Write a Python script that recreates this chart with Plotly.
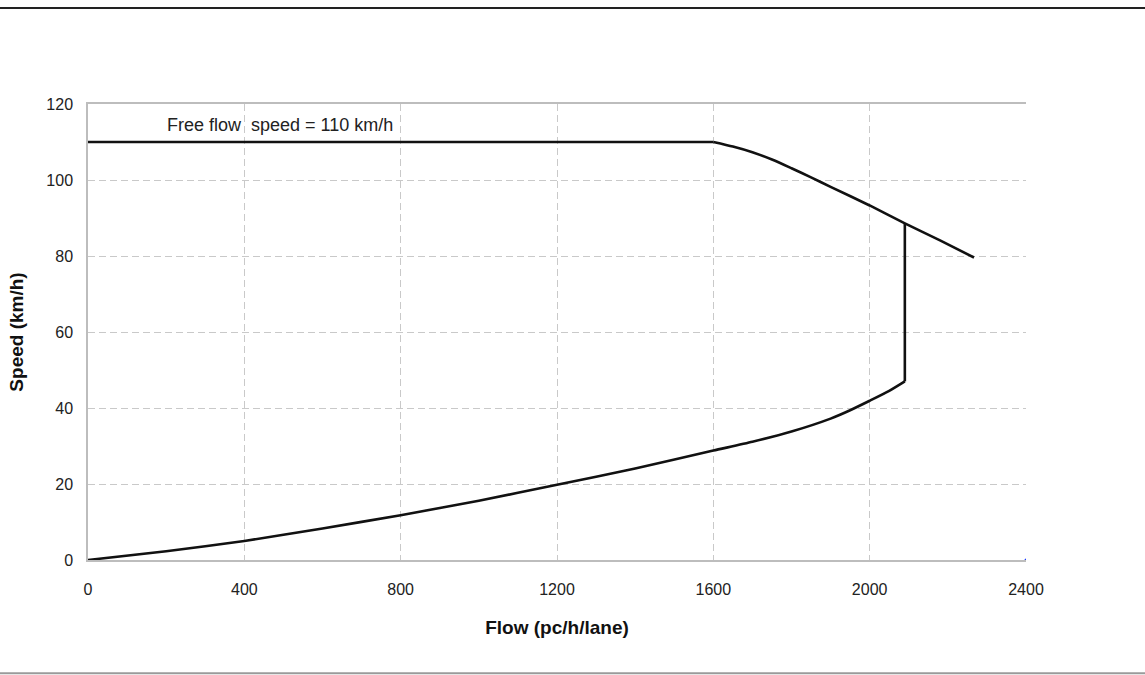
import plotly.graph_objects as go

# Uncongested branch: free flow speed 110 km/h up to the breakpoint
flat_flow = [0, 1600]
flat_speed = [110, 110]

# Uncongested branch beyond the breakpoint
upper_flow = [1600, 1650, 1700, 1750, 1800, 1850, 1900, 2000, 2090, 2180, 2267]
upper_speed = [110, 108.8, 107.3, 105.4, 103.1, 100.7, 98.2, 93.3, 88.6, 84.1, 79.6]

# Congested (lower) branch
lower_flow = [0, 200, 400, 600, 800, 1000, 1200, 1400, 1600, 1700, 1800, 1900, 1950,
              2000, 2050, 2090]
lower_speed = [0, 2.3, 5.0, 8.3, 11.8, 15.6, 19.8, 24.1, 28.8, 31.1, 33.8, 37.2, 39.4,
               41.9, 44.5, 47.0]

# Breakdown jump at capacity
jump_flow = [2090, 2090]
jump_speed = [47.0, 88.6]

x_ticks = [0, 400, 800, 1200, 1600, 2000, 2400]
y_ticks = [0, 20, 40, 60, 80, 100, 120]

line_style = dict(color="#111111", width=2.6)
fig = go.Figure()
fig.add_trace(go.Scatter(x=flat_flow, y=flat_speed, mode="lines", line=line_style,
                         hoverinfo="skip"))
fig.add_trace(go.Scatter(x=upper_flow, y=upper_speed, mode="lines",
                         line=dict(line_style, shape="spline", smoothing=0.6),
                         hoverinfo="skip"))
fig.add_trace(go.Scatter(x=lower_flow, y=lower_speed, mode="lines",
                         line=dict(line_style, shape="spline", smoothing=0.6),
                         hoverinfo="skip"))
fig.add_trace(go.Scatter(x=jump_flow, y=jump_speed, mode="lines", line=line_style,
                         hoverinfo="skip"))
fig.add_trace(go.Scatter(x=[2400], y=[0], mode="markers",
                         marker=dict(color="#1a3cff", size=3), hoverinfo="skip"))

grid = "#c9c9c9"
base_font = dict(family="Liberation Sans, Arial, sans-serif", size=16, color="#222222")
fig.update_layout(
    width=1145, height=675,
    margin=dict(l=88, r=119, t=103.5, b=115),
    paper_bgcolor="white", plot_bgcolor="white",
    showlegend=False,
    font=base_font,
    xaxis=dict(range=[0, 2400], tickvals=x_ticks, showgrid=True, gridcolor=grid,
               griddash="7px,4px", gridwidth=1, zeroline=False,
               showline=True, linecolor="#bdbdbd", linewidth=1.5, mirror=True,
               ticks="", ticklabelstandoff=14,
               title=dict(text="<b>Flow (pc/h/lane)</b>", standoff=24,
                          font=dict(size=19, color="#111111"))),
    yaxis=dict(range=[0, 120], tickvals=y_ticks, showgrid=True, gridcolor=grid,
               griddash="7px,4px", gridwidth=1, zeroline=False,
               showline=True, linecolor="#bdbdbd", linewidth=1.5,
               ticks="", ticklabelstandoff=10,
               title=dict(text="<b>Speed (km/h)</b>", standoff=18,
                          font=dict(size=19, color="#111111"))),
    annotations=[dict(x=197, y=114.5, xref="x", yref="y", xanchor="left", yanchor="middle",
                      text="Free flow  speed = 110 km/h", showarrow=False,
                      font=dict(size=18, color="#222222"))],
    shapes=[
        dict(type="line", xref="paper", yref="paper", x0=-0.1, x1=1.13,
             y0=1.2103, y1=1.2103, line=dict(color="#222222", width=2)),
        dict(type="line", xref="paper", yref="paper", x0=-0.1, x1=1.13,
             y0=-0.2486, y1=-0.2486, line=dict(color="#9a9a9a", width=2)),
    ],
)

fig.write_html("out.html")
